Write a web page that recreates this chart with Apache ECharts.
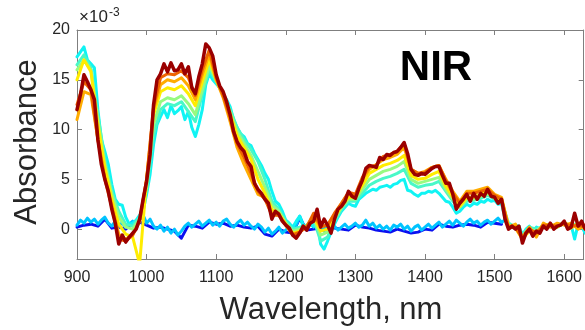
<!DOCTYPE html>
<html><head><meta charset="utf-8">
<script src="https://cdn.jsdelivr.net/npm/echarts@6/dist/echarts.min.js"></script>
<style>html,body{margin:0;padding:0;background:#fff}#c{width:585px;height:330px}</style>
</head><body><div id="c"></div>
<script>
// ---- data (absorbance in units of 1e-3) ----
const xTicks = [900, 1000, 1100, 1200, 1300, 1400, 1500, 1600];
const yTicks = [0, 5, 10, 15, 20];
const wlStart = 900;      // first wavelength of every series, nm
const fineStep = 5;       // nm between points of the 5 nm series
const coarseStep = 10;    // nm between points of the 10 nm series

// baseline spectra (end near 1515 nm)
const blueBase = [0.2,0.4,0.5,0.3,1.0,0.1,0.2,0.0,0.6,0.7,
 0.4,0.1,0.2,0.0,-0.2,-0.9,0.4,0.3,0.1,0.7,
 0.5,0.6,0.3,0.4,0.2,0.1,0.3,-0.5,-0.7,0.0,
 -0.3,-0.4,1.1,-0.1,0.0,0.1,0.2,0.1,0.0,-0.1,
 0.4,0.2,0.1,-0.1,-0.2,-0.3,0.0,-0.2,-0.4,-0.3,
 0.0,-0.1,0.5,0.3,0.2,0.4,0.5,0.4,0.2,0.7,
 0.6,0.5]; // 10 nm
const skyBase = [0.4,0.9,0.6,1.1,0.7,1.0,0.5,0.9,1.2,0.6,
 0.3,0.8,0.4,0.6,0.2,0.5,0.8,0.4,0.9,1.4,
 0.6,1.0,0.3,0.0,0.4,-0.2,0.2,-0.4,0.0,-0.6,
 -0.2,0.3,0.6,0.2,0.5,0.8,0.3,0.6,0.9,0.4,
 0.7,0.3,0.8,1.0,0.5,0.2,0.6,0.9,0.4,0.7,
 0.3,0.0,0.5,0.2,-0.3,0.1,-0.5,-0.2,0.2,-0.4,
 -0.1,0.3,-0.2,0.4,1.3,0.5,0.1,0.6,0.2,0.8,
 0.3,-0.2,0.4,0.1,0.3,-0.1,0.2,0.5,0.1,0.3,
 0.6,0.2,0.4,0.9,0.3,0.6,0.1,0.4,0.0,0.3,
 -0.1,0.4,0.2,0.5,0.0,0.3,-0.2,0.2,0.4,-0.1,
 0.2,0.5,0.1,0.4,0.7,0.2,0.5,0.8,0.4,0.9,
 0.6,0.3,0.7,1.0,0.6,0.8,0.4,0.7,0.9,0.5,
 0.8,1.1,0.7,0.9]; // 5 nm

// sample spectra
const cyanSpec = [17.3,17.8,18.3,17.0,16.6,16.2,12.0,9.0,7.8,6.5,
 4.5,3.0,2.5,2.4,1.2,0.5,0.6,0.9,1.4,1.8,
 3.5,5.5,8.5,10.5,11.3,12.0,11.2,12.4,11.6,11.9,
 12.3,11.0,11.8,10.2,9.3,10.5,12.0,14.5,15.6,15.0,
 14.6,14.2,13.5,13.0,12.3,11.0,10.2,9.6,9.3,8.6,
 8.4,7.6,7.0,6.4,5.6,5.0,3.8,2.8,2.5,1.8,
 0.9,0.6,0.2,0.8,1.3,0.3,0.0,0.5,0.3,1.0,
 -1.5,-2.0,-1.2,-0.3,0.5,1.2,1.8,2.2,2.6,2.4,
 2.3,3.0,3.3,3.6,3.8,4.0,3.9,4.2,4.3,4.4,
 4.2,4.5,4.6,4.9,5.0,3.9,3.8,3.5,3.3,3.6,
 3.6,3.8,3.7,3.9,3.6,3.2,2.8,2.7,2.2,1.6,
 1.8,2.2,2.5,2.3,2.6,2.5,2.8,2.7,3.0,2.8,
 2.9,2.5,2.6,1.0,0.5,0.2,0.4,0.3,-0.6,0.0,
 0.3,-0.2,0.2,0.0,0.4,0.2,0.5,0.1,0.3,0.5,
 0.6,0.2,0.4,-1.0,0.5,0.3,-0.4]; // 5 nm
const aquaSpec = [16.5,17.5,16.2,11.5,7.0,3.8,1.8,0.5,0.3,1.2,
 3.8,9.5,12.0,12.6,12.4,12.8,11.8,10.8,13.5,16.0,
 14.8,13.6,12.0,10.2,9.0,8.0,6.8,5.0,2.8,2.0,
 0.8,0.0,0.2,0.4,1.0,-1.2,-0.8,0.8,2.0,2.8,
 2.8,3.6,4.4,4.8,5.1,5.3,5.6,6.0,4.6,4.2,
 4.4,4.5,4.8,3.8,2.8,2.2,2.8,2.9,3.1,3.4,
 3.0,2.8,0.6,0.2,-0.5,0.2,0.0,0.3,0.4,0.2,
 0.6,0.3,0.6,0.1]; // 10 nm
const greenSpec = [16.0,17.0,16.0,11.0,6.5,3.5,1.2,0.2,0.0,1.0,
 4.2,10.5,12.8,13.2,13.0,13.4,12.6,11.5,14.0,16.4,
 15.0,13.5,11.8,9.8,8.6,7.4,5.8,4.2,2.4,1.8,
 0.6,-0.2,0.0,0.2,1.2,-0.6,-0.3,1.0,2.2,3.0,
 3.0,4.0,5.0,5.4,5.8,6.0,6.3,6.8,5.0,4.6,
 4.8,5.0,5.2,4.0,3.0,2.2,3.0,3.0,3.3,3.6,
 3.1,2.9,0.4,0.2,-0.8,0.0,-0.2,0.4,0.5,0.2,
 0.7,0.2,0.5,0.0]; // 10 nm
const yellowSpec = [15.0,17.0,15.8,10.5,6.2,3.0,0.5,-0.5,-0.8,-3.5,
 5.0,11.5,13.8,14.2,14.0,14.4,13.6,12.4,14.8,17.0,
 15.0,13.4,11.6,9.4,8.2,7.0,5.0,3.6,2.0,1.6,
 0.5,-0.4,-0.2,0.2,1.2,-0.2,0.0,1.2,2.3,3.2,
 3.2,4.4,5.6,6.0,6.4,6.6,6.9,7.4,5.4,5.0,
 5.1,5.5,5.8,4.3,3.2,2.3,3.2,3.2,3.5,3.8,
 3.2,3.0,0.3,0.1,-1.0,-0.2,-0.3,0.3,0.5,0.2,
 0.7,0.1,0.6,0.0]; // 10 nm
const orangeSpec = [11.0,13.8,13.5,9.0,5.2,2.5,-0.5,-1.0,-0.6,0.8,
 5.0,12.0,14.5,15.0,14.8,15.2,14.4,13.0,15.5,17.6,
 15.0,13.2,10.8,8.2,6.5,5.0,3.5,3.2,1.6,1.4,
 0.4,-0.5,-0.3,0.3,1.4,0.2,0.4,1.5,2.6,3.6,
 3.4,5.0,6.0,6.5,7.0,7.2,7.5,8.2,6.0,5.6,
 5.8,6.2,6.4,5.0,3.8,2.8,3.8,3.8,4.0,4.2,
 3.5,3.2,0.2,0.5,-0.8,0.2,-0.8,0.6,0.2,0.6,
 0.4,0.6,0.0,0.4]; // 10 nm
const redSpec = [12.5,14.8,14.0,9.0,5.0,2.2,-1.0,-1.2,-0.6,0.8,
 5.0,12.3,15.2,15.6,15.5,15.9,15.2,13.4,16.0,18.0,
 15.2,13.4,11.2,8.6,7.2,5.6,3.8,3.0,1.4,1.4,
 0.4,-0.6,-0.3,0.2,1.6,0.3,0.4,1.6,2.6,3.7,
 3.5,5.2,6.3,6.4,7.3,7.5,7.8,8.6,6.0,5.6,
 5.7,6.2,6.4,4.9,3.6,2.6,3.6,3.6,3.8,4.0,
 3.4,3.0,0.1,0.2,-1.0,0.0,-0.4,0.4,0.4,0.3,
 0.6,0.3,0.4,0.2]; // 10 nm
const darkRedSpec = [12.0,13.5,15.5,14.8,14.0,13.0,9.0,6.5,5.0,3.8,
 2.0,0.6,-1.5,-0.6,-1.3,-0.8,-0.4,0.0,1.0,3.0,
 4.8,7.5,12.5,15.0,15.6,16.6,15.8,16.7,15.9,16.0,
 16.6,15.6,16.3,14.2,13.6,15.3,16.6,18.6,18.2,17.4,
 15.5,14.4,13.8,12.8,11.5,9.8,8.8,8.2,7.8,6.8,
 6.3,4.6,4.0,3.6,3.0,2.6,1.0,1.8,1.5,0.8,
 0.4,0.1,-0.6,-0.9,-0.4,0.3,-0.1,0.6,0.8,2.0,
 0.2,1.0,0.4,-0.4,1.0,2.0,2.3,2.8,3.8,3.3,
 3.1,4.1,4.9,6.1,6.4,6.3,6.2,7.2,7.0,7.5,
 7.4,7.7,7.8,8.2,8.7,7.6,6.0,5.5,5.4,5.6,
 5.5,5.8,6.1,6.3,6.3,5.4,4.6,4.6,3.5,2.0,
 2.6,3.0,3.5,2.8,3.6,3.0,3.6,3.3,4.0,3.3,
 3.2,2.6,3.0,1.0,0.0,0.3,0.0,0.3,-1.4,-0.4,
 0.0,-0.7,-0.2,-0.4,0.3,0.0,0.6,0.0,0.3,0.4,
 0.8,0.0,0.2,1.6,0.3,0.8,0.0]; // 5 nm

// ---- build chart ----
function pairs(arr, step) { return arr.map((v, i) => [wlStart + i * step, v]); }
const seriesList = [
  { d: blueBase, s: coarseStep, c: '#0a10f0', w: 3 },
  { d: skyBase, s: fineStep, c: '#00c4ff', w: 3 },
  { d: cyanSpec, s: fineStep, c: '#10f4f4', w: 3 },
  { d: aquaSpec, s: coarseStep, c: '#48f8c8', w: 3 },
  { d: greenSpec, s: coarseStep, c: '#98fa80', w: 3 },
  { d: yellowSpec, s: coarseStep, c: '#ffec00', w: 3 },
  { d: orangeSpec, s: coarseStep, c: '#ffac00', w: 3 },
  { d: redSpec, s: coarseStep, c: '#ee6400', w: 3 },
  { d: darkRedSpec, s: fineStep, c: '#9b0000', w: 3.5 }
];
const axisCol = '#7f7f7f', txtCol = '#262626', ff = 'Liberation Sans, Arial, sans-serif';
const xCommon = { type: 'value', min: 900, max: 1628, splitLine: { show: false },
  axisLine: { show: true, onZero: false, lineStyle: { color: axisCol, width: 1 } },
  axisTick: { show: true, inside: true, length: 5, customValues: xTicks, lineStyle: { color: axisCol } } };
const yCommon = { type: 'value', min: -3, max: 20, splitLine: { show: false },
  axisLine: { show: true, onZero: false, lineStyle: { color: axisCol, width: 1 } },
  axisTick: { show: true, inside: true, length: 5, customValues: yTicks, lineStyle: { color: axisCol } } };
const chart = echarts.init(document.getElementById('c'), null, { renderer: 'canvas' });
chart.setOption({
  animation: false,
  grid: { left: 77, right: 1, top: 30, bottom: 71, containLabel: false },
  xAxis: [
    Object.assign({}, xCommon, { position: 'bottom',
      axisLabel: { show: true, customValues: xTicks, formatter: v => String(v), fontSize: 16, color: txtCol, fontFamily: ff, margin: 11 } }),
    Object.assign({}, xCommon, { position: 'top', axisLabel: { show: false } })
  ],
  yAxis: [
    Object.assign({}, yCommon, { position: 'left',
      axisLabel: { show: true, customValues: yTicks, formatter: v => String(v), fontSize: 16, color: txtCol, fontFamily: ff, margin: 7 } }),
    Object.assign({}, yCommon, { position: 'right', axisLabel: { show: false } })
  ],
  series: seriesList.map(o => ({ type: 'line', xAxisIndex: 0, yAxisIndex: 0, data: pairs(o.d, o.s),
    showSymbol: false, symbol: 'none', smooth: false, clip: true,
    lineStyle: { color: o.c, width: o.w, join: 'round', cap: 'round' } })),
  graphic: [
    { type: 'text', left: 79, top: 9, style: { text: '×10', fontSize: 17, fill: txtCol, fontFamily: ff } },
    { type: 'text', left: 109, top: 7, style: { text: '-3', fontSize: 12, fill: txtCol, fontFamily: ff } },
    { type: 'text', x: 436, y: 68, style: { text: 'NIR', fontSize: 42, fontWeight: 'bold', fill: '#000', fontFamily: ff, align: 'center', verticalAlign: 'middle' } },
    { type: 'text', x: 27, y: 142, rotation: Math.PI / 2, style: { text: 'Absorbance', fontSize: 31, fill: txtCol, fontFamily: ff, align: 'center', verticalAlign: 'middle' } },
    { type: 'text', x: 331, y: 310, style: { text: 'Wavelength, nm', fontSize: 31, fill: txtCol, fontFamily: ff, align: 'center', verticalAlign: 'middle' } }
  ]
});
</script></body></html>
